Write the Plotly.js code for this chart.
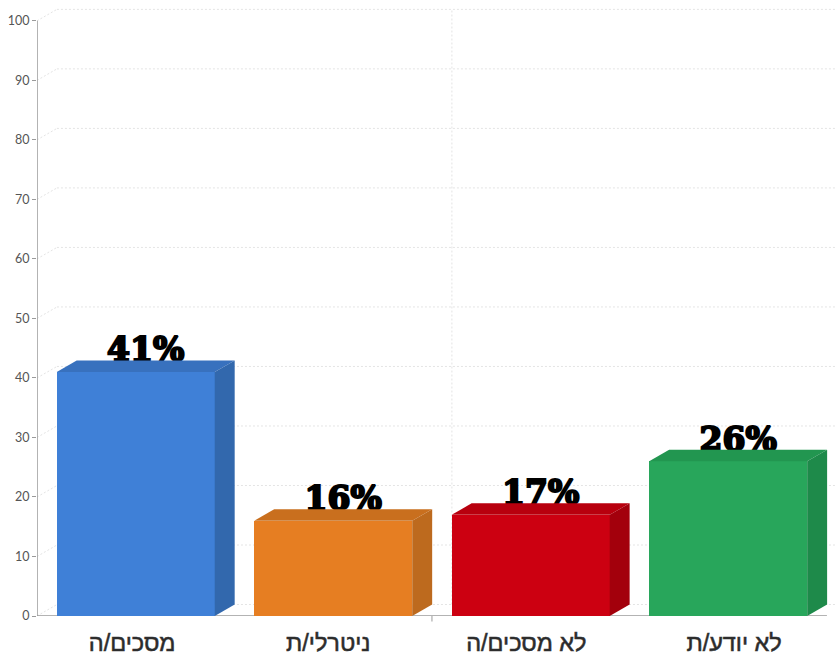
<!DOCTYPE html>
<html>
<head>
<meta charset="utf-8">
<script src="https://cdn.plot.ly/plotly-3.0.1.min.js"></script>
<style>
html,body{margin:0;padding:0;background:#fff}
#chart{width:836px;height:657px}
#chart .textpoint text{stroke:#000;stroke-width:2.1px}
#chart .xtick text{stroke:#333;stroke-width:.55px}
</style>
</head>
<body>
<div id="chart"></div>
<script>
const categories = ["מסכים/ה", "ניטרלי/ת", "לא מסכים/ה", "לא יודע/ת"];
const values = [41, 16, 17, 26];
const frontColors = ["#3F80D7", "#E67E22", "#CC0011", "#28A65B"];
const topColors = ["#3871BE", "#C96F1E", "#B8000E", "#229650"];
const sideColors = ["#3268AD", "#BD6A1E", "#A3000C", "#1E8A4A"];
const yTicks = [0, 10, 20, 30, 40, 50, 60, 70, 80, 90, 100];
const labelShift = [-0.018, -0.025, -0.022, 0.03];

const barWidth = 0.8, depthX = 0.101, depthY = 1.93;
const xs = categories.map((_, i) => i);
const xMin = -0.5, xMax = 3.5, xView = 3.546, yView = 103;
const gridStyle = {color: "#e4e4e4", width: 1, dash: "2px,2px"};
const axisStyle = {color: "#9a9a9a", width: 1.5};

const shapes = [];
yTicks.forEach(v => {
  shapes.push({type: "line", layer: "below", xref: "x", yref: "y", x0: xMin, y0: v, x1: xMin + depthX, y1: v + depthY, line: gridStyle});
  shapes.push({type: "line", layer: "below", xref: "x", yref: "y", x0: xMin + depthX, y0: v + depthY, x1: xView, y1: v + depthY, line: gridStyle});
});
shapes.push({type: "line", layer: "below", xref: "x", yref: "y", x0: 1.5 + depthX, y0: depthY, x1: 1.5 + depthX, y1: 100 + depthY, line: gridStyle});
shapes.push({type: "line", layer: "below", xref: "x", yref: "y", x0: xMin, y0: 0, x1: xMin, y1: 100, line: axisStyle});
shapes.push({type: "line", layer: "below", xref: "x", yref: "y", x0: xMin, y0: 0, x1: xMax, y1: 0, line: axisStyle});
shapes.push({type: "line", layer: "below", xref: "x", yref: "paper", x0: 1.5, y0: 0, x1: 1.5, y1: -0.009, line: {color: "#9a9a9a", width: 1}});

const traces = [{
  type: "bar", x: xs, y: values, width: barWidth,
  marker: {color: frontColors, line: {width: 0}},
  hoverinfo: "skip", showlegend: false
}, {
  type: "scatter", mode: "text",
  x: xs.map(x => x + depthX / 2),
  y: values.map(v => v + depthY - 1.55),
  text: values.map(v => v + "%"),
  textposition: "top center",
  textfont: {family: "DejaVu Serif", size: 33, color: "#000", weight: 700},
  hoverinfo: "skip", showlegend: false
}];

values.forEach((v, i) => {
  const l = i - barWidth / 2, r = i + barWidth / 2;
  traces.push({
    type: "scatter", mode: "lines", fill: "toself", fillcolor: topColors[i],
    x: [l, r, r + depthX, l + depthX, l],
    y: [v, v, v + depthY, v + depthY, v],
    line: {width: 0, color: topColors[i]}, hoverinfo: "skip", showlegend: false
  });
  traces.push({
    type: "scatter", mode: "lines", fill: "toself", fillcolor: sideColors[i],
    x: [r, r + depthX, r + depthX, r, r],
    y: [0, depthY, v + depthY, v, 0],
    line: {width: 0, color: sideColors[i]}, hoverinfo: "skip", showlegend: false
  });
});

const layout = {
  width: 836, height: 657,
  margin: {l: 37, r: 0, t: 3, b: 41, pad: 0},
  paper_bgcolor: "#fff", plot_bgcolor: "#fff",
  showlegend: false,
  bargap: 0,
  shapes: shapes,
  xaxis: {
    type: "linear", range: [xMin, xView], tickmode: "array",
    tickvals: xs.map((x, i) => x + labelShift[i]), ticktext: categories,
    ticks: "", showgrid: false, zeroline: false, showline: false, ticklabelstandoff: 10,
    tickfont: {family: "Liberation Sans", size: 23.5, color: "#2b2b2b"}
  },
  yaxis: {
    range: [0, yView], tickmode: "array", tickvals: yTicks, ticktext: yTicks.map(String),
    ticks: "outside", ticklen: 4, tickcolor: "#9a9a9a", tickwidth: 1,
    showgrid: false, zeroline: false, showline: false,
    tickfont: {family: "Lato", size: 12.5, color: "#555"}
  }
};
Plotly.newPlot("chart", traces, layout, {displayModeBar: false, staticPlot: true});
</script>
</body>
</html>
